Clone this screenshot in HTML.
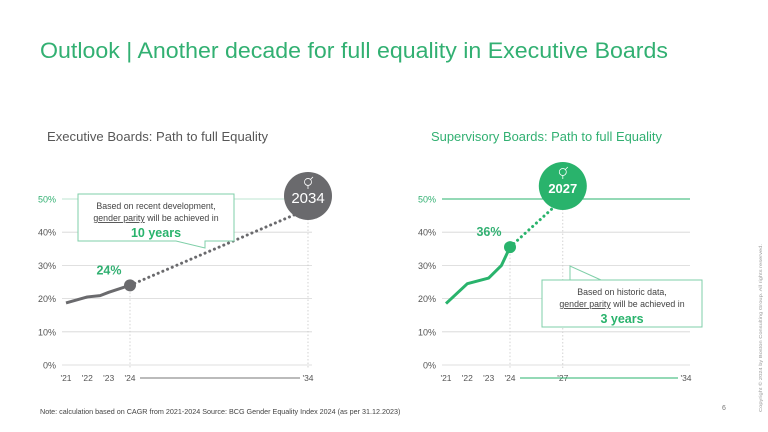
<!DOCTYPE html>
<html><head><meta charset="utf-8"><style>
html,body{margin:0;padding:0;background:#fff;}
svg{display:block;font-family:"Liberation Sans",sans-serif;}
</style></head><body>
<svg width="768" height="432" viewBox="0 0 768 432">
<text x="40" y="58" font-size="22" fill="#32b072" textLength="628" lengthAdjust="spacingAndGlyphs">Outlook | Another decade for full equality in Executive Boards</text>
<text x="47" y="141" font-size="12.5" fill="#575757" textLength="221" lengthAdjust="spacingAndGlyphs">Executive Boards: Path to full Equality</text>
<text x="431" y="141" font-size="12.5" fill="#32b072" textLength="231" lengthAdjust="spacingAndGlyphs">Supervisory Boards: Path to full Equality</text>
<g id="c1"></g>
<g id="c2"></g>
<text x="40" y="414" font-size="7.2" fill="#444">Note: calculation based on CAGR from 2021-2024 Source: BCG Gender Equality Index 2024 (as per 31.12.2023)</text>
<text x="722" y="410" font-size="7" fill="#777">6</text>
<text transform="translate(762,412) rotate(-90)" font-size="4.6" fill="#999" textLength="168" lengthAdjust="spacingAndGlyphs">Copyright © 2024 by Boston Consulting Group. All rights reserved.</text>
</svg>
<script>
const ticks=[0,10,20,30,40,50];
const tickLabels=["0%","10%","20%","30%","40%","50%"];
const execYears=[2021,2022,2022.6,2023,2024];
const execValues=[18.7,20.5,20.9,21.9,24];
const execTarget=[2034,47];
const supYears=[2021,2022,2023,2023.6,2024];
const supValues=[18.5,24.5,26.2,30,35.5];
const supTarget=[2027,50];
const NS="http://www.w3.org/2000/svg";
function mk(p,t,a){const e=document.createElementNS(NS,t);for(const k in a)e.setAttribute(k,a[k]);p.appendChild(e);return e;}
const y=v=>365-v*3.32;
function draw(gid,x0,x24,x34,color,years,vals,target,opt){
 const g=document.getElementById(gid);
 const x=yr=>yr<=2024?x0+(yr-2021)*(x24-x0)/3:x24+(yr-2024)*(x34-x24)/10;
 ticks.forEach((t,i)=>{
  const top=t===50;
  let l=mk(g,'line',{x1:x0-4,x2:x34+4,y1:y(t),y2:y(t),stroke:top?(opt.green?color:'#a8dcc2'):'#d5d5d5','stroke-width':top&&opt.green?1:0.8});
  
  let tx=mk(g,'text',{x:x0-10,y:y(t)+3.5,'font-size':9,fill:top?'#32b072':'#555','text-anchor':'end'});
  tx.textContent=tickLabels[i];
 });
 const xl=[[2021,"'21"],[2022,"'22"],[2023,"'23"],[2024,"'24"],[2034,"'34"]];
 if(opt.mid)xl.push([opt.mid,"'"+String(opt.mid).slice(2)]);
 xl.forEach(([yr,s])=>{let t=mk(g,'text',{x:x(yr),y:381,'font-size':8.5,fill:'#555','text-anchor':'middle'});t.textContent=s;
  });
 let ax=mk(g,'line',{x1:x(2024)+10,x2:x(2034)-8,y1:378,y2:378,stroke:opt.green?color:'#777','stroke-width':1});
 
 [2024,target[0]].forEach(yr=>{let v=mk(g,'line',{x1:x(yr),x2:x(yr),y1:yr===2024?y(vals[vals.length-1]):y(target[1])+10,y2:368,stroke:'#c8c8c8','stroke-dasharray':'1.5,2','stroke-width':0.8});
  });
 let p=mk(g,'polyline',{points:years.map((yr,i)=>x(yr)+','+y(vals[i])).join(' '),fill:'none',stroke:color,'stroke-width':3,'stroke-linejoin':'round'});
 
 const lx=x(2024),ly=y(vals[vals.length-1]);
 let d=mk(g,'line',{x1:lx,y1:ly,x2:x(target[0]),y2:y(target[1]),stroke:color,'stroke-width':3,'stroke-dasharray':'0.1,5','stroke-linecap':'round'});
 
 let c=mk(g,'circle',{cx:lx,cy:ly,r:6,fill:color});
 let vl=mk(g,'text',{x:lx-21,y:ly-11,'font-size':12.5,'font-weight':'bold',fill:'#32b072','text-anchor':'middle'});
 vl.textContent=vals[vals.length-1].toFixed(0)+'%';
 const cx=x(target[0]),cy=y(target[1])-13;
 let bc=mk(g,'circle',{cx:cx,cy:cy,r:24,fill:color});
 let ic=mk(g,'circle',{cx:cx,cy:cy-14,r:3.5,fill:'none',stroke:'#fff','stroke-width':0.8});
 mk(g,'line',{x1:cx,y1:cy-10.5,x2:cx,y2:cy-7,stroke:'#fff','stroke-width':0.8});
 mk(g,'line',{x1:cx+2.5,y1:cy-16.5,x2:cx+5,y2:cy-19,stroke:'#fff','stroke-width':0.8});
 let bt=mk(g,'text',{x:cx,y:cy+7,'font-size':opt.green?13:15,'font-weight':opt.green?'bold':'normal',fill:'#fff','text-anchor':'middle'});
 bt.textContent=String(target[0]);
}
draw('c1',66,130,308,'#6a6a6d',execYears,execValues,execTarget,{green:false});
draw('c2',446,510,686,'#29b36c',supYears,supValues,supTarget,{green:true,mid:2027});
function callout(path,bx,by,w,l1,ytxt,name){
 const svg=document.querySelector('svg');
 const g=mk(svg,'g',{});
 mk(g,'path',{d:path,fill:'#fff',stroke:'#7fcfa8','stroke-width':1});
 const cx=bx+w/2;
 let t1=mk(g,'text',{x:cx,y:by+13,'font-size':8.8,fill:'#444','text-anchor':'middle'});t1.textContent=l1;
 let t2=mk(g,'text',{x:cx,y:by+25,'font-size':8.8,fill:'#444','text-anchor':'middle'});
 const u=mk(t2,'tspan',{'text-decoration':'underline'});u.textContent='gender parity';
 const r=mk(t2,'tspan',{});r.textContent=' will be achieved in';
 let t3=mk(g,'text',{x:cx,y:by+41,'font-size':12.5,'font-weight':'bold',fill:'#29b36c','text-anchor':'middle'});t3.textContent=ytxt;
}
callout('M78,194 H234 V241 H205 V248 L176,241 H78 Z',78,196,156,'Based on recent development,','10 years','exec-callout');
callout('M542,280 H601 L570,266 V280 H702 V327 H542 Z',542,282,160,'Based on historic data,','3 years','sup-callout');
</script>
</body></html>
